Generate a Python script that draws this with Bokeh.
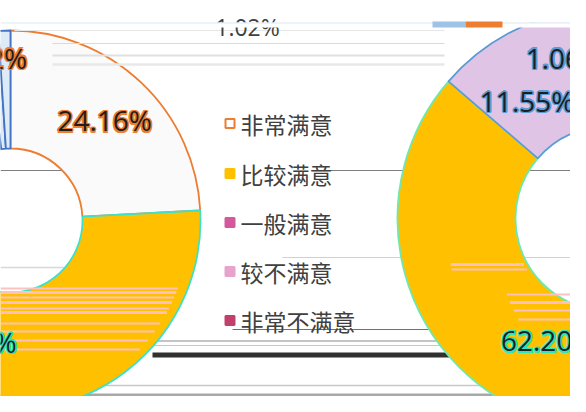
import numpy as np
from bokeh.plotting import figure
from bokeh.models import Range1d, ColumnDataSource
from bokeh.core.properties import value
from bokeh.embed import file_html
from bokeh.resources import INLINE

# ---------------- data ----------------
categories = ["非常满意", "比较满意", "一般满意", "较不满意", "非常不满意"]
left_values = [24.16, 61.84, 11.96, 1.02, 1.02]
right_values = [24.13, 62.20, 11.55, 1.06, 1.06]
left_labels = ["24.16%", "61.84%", "11.96%", "1.02%", "1.02%"]
right_labels = ["24.13%", "62.20%", "11.55%", "1.06%", "1.06%"]

legend_fill = ["#FFFFFF", "#FFC000", "#D4589C", "#E6A3CB", "#C2416B"]
legend_line = ["#ED7D31", "#FFC000", "#D4589C", "#E6A3CB", "#C2416B"]
left_fill = ["#FAFAFA", "#FFC000", "#D9C3E5", "#DDEBF7", "#DDEBF7"]
left_line = ["#ED7D31", "#3FE0C8", "#5B9BD5", "#4472C4", "#4472C4"]
right_fill = ["#FAFAFA", "#FFC000", "#DFC4E6", "#BDD7EE", "#BDD7EE"]
right_line = ["#ED7D31", "#6FE8B0", "#5B9BD5", "#5B9BD5", "#5B9BD5"]
left_glow = ["#ED7D31", "#2EE6C0", "#5B9BD5", None, "#ED7D31"]
right_glow = ["#ED7D31", "#2EE6C0", "#5B9BD5", "#5B9BD5", None]

# ---------------- layout (pixel coords of the page image) ----------------
W, H = 570, 396
def Y(py):
    return 412 - py

p = figure(width=W, height=H, output_backend="svg", toolbar_location=None,
           x_range=Range1d(8, 578), y_range=Range1d(8, 404),
           x_axis_type=None, y_axis_type=None, min_border=0,
           min_border_left=0, min_border_right=0, min_border_top=0, min_border_bottom=0)
p.outline_line_color = None
p.background_fill_color = "white"
p.border_fill_color = "white"

LABEL_FONT = value("Open Sans")
CJK_FONT = value("Noto Sans CJK SC")

# background artifact lines (under the doughnuts)
under_lines = [
    (8, 80, 178, "#7F7F7F", 1.2),
    (330, 578, 178, "#7F7F7F", 1.2),
    (290, 578, 265, "#D0D0D0", 1.0),
    (8, 200, 275, "#D8D8D8", 1.5),
    (240, 470, 337, "#707070", 1.0),
    (160, 578, 348.5, "#B0B0B0", 1.5),
    (160, 578, 353, "#C8C8C8", 1.0),
    (160, 578, 362.5, "#303030", 5),
    (100, 578, 393, "#C8C8C8", 1.5),
    (8, 578, 402.5, "#A8A8A8", 3),
]
for x0, x1, yy, c, w in under_lines:
    p.segment(x0=[x0], y0=[Y(yy)], x1=[x1], y1=[Y(yy)], line_color=c, line_width=w)


def donut(values, cx, cy, r_in, r_out, fills, lines):
    cum = np.cumsum([0.0] + list(values)) / 100.0
    start = np.pi / 2 - 2 * np.pi * cum[:-1]
    end = np.pi / 2 - 2 * np.pi * cum[1:]
    src = ColumnDataSource(dict(start=start, end=end, fill=fills, line=lines,
                                x=[cx] * len(values), y=[cy] * len(values)))
    p.annular_wedge(x="x", y="y", inner_radius=r_in, outer_radius=r_out,
                    start_angle="start", end_angle="end", direction="clock",
                    fill_color="fill", line_color="line", line_width=1.8, source=src)
    mid = (cum[:-1] + cum[1:]) / 2
    ang = np.pi / 2 - 2 * np.pi * mid
    rm = (r_in + r_out) / 2
    return cx + rm * np.cos(ang), cy + rm * np.sin(ang)

# left doughnut
lcx, lcy, lri, lro = 18, Y(228), 72, 190
lx, ly = donut(left_values, lcx, lcy, lri, lro, left_fill, left_line)
# right doughnut
rcx, rcy, rri, rro = 615, Y(226), 92, 210
rx, ry = donut(right_values, rcx, rcy, rri, rro, right_fill, right_line)

# pink scan-line artefacts inside the yellow rings
def chord(cx, cy, r, yy):
    d = r * r - (yy - cy) ** 2
    return np.sqrt(d) if d > 0 else None

for py, h in [(296, 2), (300, 3), (305, 2), (310, 3), (316, 2), (320, 3),
              (331, 2), (339, 2), (348, 2), (357, 2)]:
    half = chord(lcx, lcy, lro, Y(py))
    if half:
        p.segment(x0=[8], y0=[Y(py)], x1=[lcx + half - 10], y1=[Y(py)],
                  line_color="#FFC0C0", line_width=h)
for py, h in [(272, 3), (277, 2)]:
    ho, hi = chord(rcx, rcy, rro, Y(py)), chord(rcx, rcy, rri, Y(py))
    p.segment(x0=[rcx - ho + 48], y0=[Y(py)], x1=[rcx - hi - 4], y1=[Y(py)],
              line_color="#FFC0C0", line_width=h)
for py, h in [(302, 2), (310, 3), (318, 2), (327, 2)]:
    ho = chord(rcx, rcy, rro, Y(py))
    p.segment(x0=[rcx - ho + 95], y0=[Y(py)], x1=[578], y1=[Y(py)],
              line_color="#FFC0C0", line_width=h)

# top cut band
p.quad(left=[8], right=[578], bottom=[Y(30)], top=[Y(8)], fill_color="white", line_color=None)

top_lines = [
    (22, 452, 38, "#E6E6E6", 1.2),
    (60, 452, 51, "#DADADA", 1.2),
    (60, 452, 63, "#E0E0E0", 2.0),
    (60, 452, 72, "#E8E8E8", 2.5),
]
for x0, x1, yy, c, w in top_lines:
    p.segment(x0=[x0], y0=[Y(yy)], x1=[x1], y1=[Y(yy)], line_color=c, line_width=w)


def glow_text(x, y, txt, glow, size="28px", color="#1E1E1E"):
    if glow is not None:
        for dx, dy in [(-1.6, 0), (1.6, 0), (0, -1.6), (0, 1.6),
                       (-1.2, -1.2), (1.2, 1.2), (-1.2, 1.2), (1.2, -1.2)]:
            p.text(x=[x], y=[y], text=[txt], x_offset=dx, y_offset=dy,
                   text_font=LABEL_FONT, text_font_size=value(size),
                   text_color=glow, text_align="center", text_baseline="middle")
    p.text(x=[x], y=[y], text=[txt], text_font=LABEL_FONT, text_font_size=value(size),
           text_color=color, text_align="center", text_baseline="middle")

# data labels near segment mid-points (nudged as in the original)
glow_text(lx[0] + 4, ly[0] + 5, left_labels[0], left_glow[0])
glow_text(lx[1], ly[1] + 3, left_labels[1], left_glow[1])
glow_text(lx[2], ly[2] + 3, left_labels[2], left_glow[2])
glow_text(rx[2] - 8.5, ry[2] - 15, right_labels[2], right_glow[2])
glow_text(rx[1] - 10.5, ry[1] + 21, right_labels[1], right_glow[1])
# relocated small labels
glow_text(-4.5, Y(65), left_labels[4], left_glow[4])
glow_text(572.5, Y(65), right_labels[3], right_glow[3])
p.text(x=[255], y=[Y(34.5)], text=[left_labels[3]], text_font=LABEL_FONT,
       text_font_size=value("23px"), text_color="#404040",
       text_align="center", text_baseline="alphabetic")

# cut strip hiding the lower part of the top label
p.quad(left=[8], right=[578], bottom=[Y(35)], top=[Y(30)], fill_color="white", line_color=None)
p.segment(x0=[8], y0=[Y(30.5)], x1=[578], y1=[Y(30.5)], line_color="#DCE9F5", line_width=1.2)
p.quad(left=[440], right=[473], bottom=[Y(35)], top=[Y(29)], fill_color="#9DC3E6", line_color=None)
p.quad(left=[473], right=[510], bottom=[Y(35)], top=[Y(29)], fill_color="#ED7D31", line_color=None)

# legend
leg_y = [131, 181, 230, 279, 328]
src = ColumnDataSource(dict(x=[237.5] * 5, y=[Y(v) for v in leg_y], fill=legend_fill,
                            line=legend_line, name=categories, tx=[248] * 5))
p.rect(x="x", y="y", width=9, height=9, fill_color="fill", line_color="line",
       line_width=2, source=src)
p.text(x="tx", y="y", text="name", text_font=CJK_FONT, text_font_size=value("23px"),
       text_color="#404040", text_align="left", text_baseline="middle", source=src)

open("out.html", "w").write(file_html(p, INLINE))
